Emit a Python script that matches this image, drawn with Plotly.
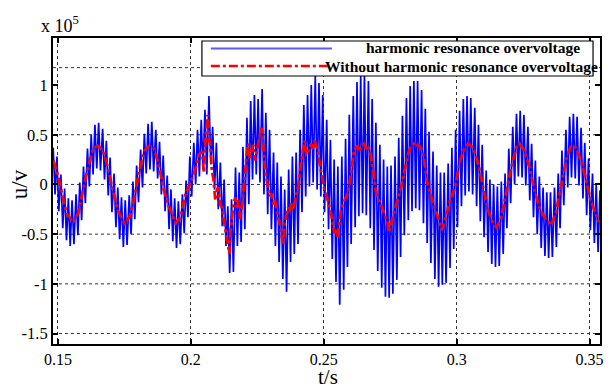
import plotly.graph_objects as go

# ---------------- data (voltage in units of 1e5 V) ----------------
# blue: harmonic resonance overvoltage, one maximum and one minimum per harmonic cycle
blue_t = [0.1482, 0.1496, 0.1511, 0.1525, 0.1539, 0.1553, 0.1568, 0.1582, 0.1596, 0.1611,
          0.1625, 0.1639, 0.1653, 0.1668, 0.1682, 0.1696, 0.1711, 0.1725, 0.1739, 0.1753,
          0.1768, 0.1782, 0.1796, 0.1811, 0.1825, 0.1839, 0.1853, 0.1868, 0.1882, 0.1896,
          0.1911, 0.1925, 0.1939, 0.1953, 0.1968, 0.1982, 0.1996, 0.2011, 0.2025, 0.2039,
          0.2053, 0.2068, 0.2082, 0.2096, 0.2111, 0.2125, 0.2139, 0.2153, 0.2168, 0.2182,
          0.2196, 0.2211, 0.2225, 0.2239, 0.2253, 0.2268, 0.2282, 0.2296, 0.2311, 0.2325,
          0.2339, 0.2353, 0.2368, 0.2382, 0.2396, 0.2411, 0.2425, 0.2439, 0.2453, 0.2468,
          0.2482, 0.2496, 0.2511, 0.2525, 0.2539, 0.2553, 0.2568, 0.2582, 0.2596, 0.2611,
          0.2625, 0.2639, 0.2653, 0.2668, 0.2682, 0.2696, 0.2711, 0.2725, 0.2739, 0.2753,
          0.2768, 0.2782, 0.2796, 0.2811, 0.2825, 0.2839, 0.2853, 0.2868, 0.2882, 0.2896,
          0.2911, 0.2925, 0.2939, 0.2953, 0.2968, 0.2982, 0.2996, 0.3011, 0.3025, 0.3039,
          0.3053, 0.3068, 0.3082, 0.3096, 0.3111, 0.3125, 0.3139, 0.3153, 0.3168, 0.3182,
          0.3196, 0.3211, 0.3225, 0.3239, 0.3253, 0.3268, 0.3282, 0.3296, 0.3311, 0.3325,
          0.3339, 0.3353, 0.3368, 0.3382, 0.3396, 0.3411, 0.3425, 0.3439, 0.3453, 0.3468,
          0.3482, 0.3496, 0.3511, 0.3525, 0.3539]
blue_half = 0.0007  # time from a maximum to the following minimum

blue_hi = [0.37, 0.28, 0.10, -0.04, -0.14, -0.16, -0.10, 0.02, 0.18, 0.36, 0.50, 0.60, 0.62, 0.56,
           0.44, 0.27, 0.11, -0.03, -0.13, -0.16, -0.11, 0.03, 0.19, 0.35, 0.51, 0.61, 0.63, 0.55,
           0.43, 0.29, 0.09, -0.05, -0.14, -0.17, -0.10, 0.04,
           0.28, 0.42, 0.55, 0.65, 0.75, 0.89, 0.58, 0.42, 0.22, 0.05, -0.22, -0.15, 0.17, 0.12,
           0.38, 0.67, 0.84, 0.90, 0.86, 0.96, 0.72, 0.55, 0.32, 0.22, 0.08, -0.05, 0.15, 0.28,
           0.32, 0.55, 0.80, 0.90, 1.00, 1.09, 1.02, 0.90,
           0.65, 0.45, 0.25, 0.18, 0.28, 0.46, 0.70, 0.89, 1.03, 1.10, 1.11, 1.04, 0.86, 0.62,
           0.40, 0.25, 0.18, 0.19, 0.28, 0.47, 0.69, 0.87, 0.99, 1.04, 1.04, 0.95, 0.76, 0.53,
           0.33, 0.19, 0.12, 0.12, 0.21, 0.37,
           0.55, 0.74, 0.86, 0.89, 0.87, 0.77, 0.60, 0.40, 0.14, 0.05, 0.00, -0.02, 0.03, 0.11,
           0.36, 0.58, 0.71, 0.74, 0.70, 0.58, 0.41, 0.24, 0.08, -0.03, -0.08, -0.08, -0.03, 0.11,
           0.34, 0.55, 0.68, 0.71, 0.68, 0.57, 0.42, 0.26, 0.11, 0.00, -0.06]
blue_lo = [-0.10, -0.27, -0.44, -0.56, -0.62, -0.60, -0.51, -0.36, -0.19, -0.02, 0.10, 0.16, 0.14, 0.05,
           -0.11, -0.28, -0.43, -0.55, -0.63, -0.61, -0.50, -0.35, -0.18, -0.03, 0.11, 0.15, 0.13, 0.06,
           -0.10, -0.27, -0.45, -0.57, -0.64, -0.60, -0.49, -0.33,
           -0.12, 0.00, 0.08, 0.15, 0.10, 0.20, -0.05, -0.25, -0.42, -0.62, -0.89, -0.88, -0.62, -0.58,
           -0.45, -0.20, 0.05, 0.10, 0.02, -0.10, -0.30, -0.45, -0.62, -0.78, -0.95, -1.08, -0.78, -0.70,
           -0.60, -0.28, -0.12, -0.02, 0.02, -0.05, -0.12, -0.28,
           -0.45, -0.75, -0.98, -1.21, -1.06, -0.83, -0.60, -0.43, -0.32, -0.29, -0.31, -0.44, -0.66, -0.87,
           -1.04, -1.13, -1.14, -1.10, -0.96, -0.73, -0.51, -0.36, -0.27, -0.24, -0.26, -0.39, -0.59, -0.79,
           -0.95, -1.03, -1.01, -0.99, -0.84, -0.65,
           -0.43, -0.22, -0.11, -0.07, -0.10, -0.22, -0.37, -0.53, -0.68, -0.80, -0.83, -0.82, -0.70, -0.44,
           -0.19, 0.00, 0.08, 0.07, -0.01, -0.16, -0.33, -0.50, -0.64, -0.72, -0.74, -0.73, -0.63, -0.44,
           -0.21, -0.03, 0.07, 0.06, -0.01, -0.14, -0.31, -0.46, -0.59, -0.68, -0.72]

# red: without harmonic resonance overvoltage
red_t = [0.1483, 0.1495, 0.1507, 0.1520, 0.1532, 0.1557, 0.1576, 0.1594, 0.1613, 0.1632,
         0.1650, 0.1669, 0.1688, 0.1706, 0.1725, 0.1750, 0.1769, 0.1787, 0.1806, 0.1825,
         0.1843, 0.1862, 0.1881, 0.1899, 0.1918, 0.1943, 0.1961, 0.1980, 0.1999, 0.2017,
         0.2030, 0.2042, 0.2049, 0.2055, 0.2060, 0.2063, 0.2068, 0.2073, 0.2079, 0.2085,
         0.2092, 0.2098, 0.2104, 0.2110, 0.2116, 0.2123, 0.2130, 0.2136, 0.2142, 0.2145,
         0.2148, 0.2154, 0.2160, 0.2167, 0.2173, 0.2179, 0.2185, 0.2192, 0.2198, 0.2204,
         0.2210, 0.2216, 0.2222, 0.2229, 0.2235, 0.2241, 0.2248, 0.2254, 0.2260, 0.2266,
         0.2272, 0.2279, 0.2285, 0.2291, 0.2297, 0.2303, 0.2310, 0.2316, 0.2322, 0.2328,
         0.2335, 0.2341, 0.2347, 0.2353, 0.2360, 0.2366, 0.2372, 0.2378, 0.2385, 0.2391,
         0.2397, 0.2403, 0.2409, 0.2415, 0.2422, 0.2428, 0.2434, 0.2440, 0.2446, 0.2453,
         0.2459, 0.2465, 0.2471, 0.2478, 0.2484, 0.2490, 0.2497, 0.2503, 0.2509, 0.2515,
         0.2521, 0.2527, 0.2533, 0.2540, 0.2546, 0.2552, 0.2558, 0.2565, 0.2571, 0.2577,
         0.2583, 0.2590, 0.2596, 0.2602, 0.2608, 0.2614, 0.2620, 0.2627, 0.2633, 0.2639,
         0.2645, 0.2652, 0.2658, 0.2664, 0.2670, 0.2676, 0.2683, 0.2689, 0.2695, 0.2701,
         0.2707, 0.2714, 0.2720, 0.2726, 0.2732, 0.2739, 0.2745, 0.2751, 0.2757, 0.2764,
         0.2770, 0.2779, 0.2789, 0.2795, 0.2801, 0.2807, 0.2813, 0.2820, 0.2826, 0.2832,
         0.2838, 0.2845, 0.2851, 0.2857, 0.2863, 0.2870, 0.2876, 0.2882, 0.2888, 0.2894,
         0.2900, 0.2906, 0.2913, 0.2919, 0.2925, 0.2932, 0.2938, 0.2944, 0.2950, 0.2956,
         0.2966, 0.2975, 0.2985, 0.2994, 0.3004, 0.3013, 0.3025, 0.3043, 0.3062, 0.3081,
         0.3100, 0.3118, 0.3137, 0.3150, 0.3168, 0.3187, 0.3205, 0.3224, 0.3236, 0.3255,
         0.3274, 0.3293, 0.3311, 0.3330, 0.3355, 0.3373, 0.3392, 0.3411, 0.3430, 0.3448,
         0.3467, 0.3485, 0.3504, 0.3522, 0.3535]
red_u = [0.24, 0.14, 0.01, -0.16, -0.29, -0.38, -0.29, -0.06, 0.17, 0.36,
         0.39, 0.34, 0.17, -0.06, -0.26, -0.39, -0.33, -0.13, 0.14, 0.34,
         0.39, 0.36, 0.17, -0.06, -0.23, -0.39, -0.33, -0.09, 0.02, 0.15,
         0.30, 0.33, 0.12, 0.45, 0.64, 0.70, 0.45, 0.41, 0.14, 0.05,
         -0.16, -0.05, -0.03, -0.20, -0.23, -0.35, -0.43, -0.55, -0.63, -0.70,
         -0.50, -0.33, -0.20, -0.13, -0.25, -0.16, -0.35, -0.23, -0.05, 0.14,
         0.30, 0.41, 0.25, 0.34, 0.40, 0.24, 0.35, 0.41, 0.50, 0.57,
         0.35, 0.17, 0.05, -0.03, -0.12, -0.09, -0.20, -0.16, -0.25, -0.33,
         -0.40, -0.49, -0.61, -0.39, -0.30, -0.23, -0.28, -0.19, -0.25, -0.16,
         -0.10, -0.03, 0.10, 0.24, 0.35, 0.44, 0.30, 0.31, 0.38, 0.41,
         0.35, 0.44, 0.40, 0.34, 0.22, 0.14, 0.05, -0.06, -0.10, -0.16,
         -0.22, -0.29, -0.38, -0.49, -0.45, -0.53, -0.40, -0.26, -0.20, -0.16,
         -0.12, -0.09, 0.00, 0.11, 0.22, 0.34, 0.37, 0.39, 0.33, 0.36,
         0.40, 0.41, 0.36, 0.39, 0.35, 0.31, 0.18, 0.04, -0.05, -0.13,
         -0.16, -0.19, -0.24, -0.29, -0.33, -0.36, -0.48, -0.42, -0.36, -0.30,
         -0.23, -0.15, -0.06, 0.02, 0.11, 0.19, 0.27, 0.33, 0.37, 0.40,
         0.41, 0.38, 0.39, 0.40, 0.37, 0.34, 0.27, 0.15, 0.04, -0.03,
         -0.09, -0.14, -0.19, -0.24, -0.29, -0.34, -0.39, -0.46, -0.41, -0.36,
         -0.26, -0.16, -0.09, -0.03, 0.12, 0.24, 0.34, 0.41, 0.37, 0.21,
         -0.03, -0.26, -0.39, -0.43, -0.33, -0.09, 0.17, 0.37, 0.41, 0.34,
         0.17, -0.06, -0.23, -0.33, -0.41, -0.29, -0.03, 0.24, 0.39, 0.37,
         0.24, 0.07, -0.16, -0.29, -0.38]

x_ticks = [0.15, 0.2, 0.25, 0.3, 0.35]
x_ticktext = ["0.15", "0.2", "0.25", "0.3", "0.35"]
y_ticks = [-1.5, -1, -0.5, 0, 0.5, 1]
y_ticktext = ["-1.5", "-1", "-0.5", "0", "0.5", "1"]
y_grid = [-1.5, -1, -0.5, 0, 0.5, 1.175]
legend_names = ["harmonic resonance overvoltage", "Without harmonic resonance overvoltage"]

# ---------------- figure ----------------
W, H = 610, 389
L, R, T, B = 53, 6, 38, 45
pw, ph = W - L - R, H - T - B


def px(xp):
    return (xp - L) / pw


def py(yp):
    return (H - B - yp) / ph


bx, by = [], []
for t, hi, lo in zip(blue_t, blue_hi, blue_lo):
    bx += [t, t + blue_half]
    by += [hi, lo]

SERIF = "Liberation Serif, Times New Roman, serif"

fig = go.Figure()
fig.add_trace(go.Scatter(x=bx, y=by, mode="lines", name=legend_names[0],
                         line=dict(color="rgb(0,0,255)", width=1.7), showlegend=False,
                         hoverinfo="skip"))
fig.add_trace(go.Scatter(x=red_t, y=red_u, mode="lines", name=legend_names[1],
                         line=dict(color="rgb(255,0,0)", width=2.8, dash="dashdot"),
                         showlegend=False, hoverinfo="skip"))

shapes = []
for g in y_grid:
    shapes.append(dict(type="line", xref="paper", yref="y", x0=0, x1=1, y0=g, y1=g,
                       line=dict(color="#333", width=1, dash="dot"), layer="below"))
# legend box
shapes.append(dict(type="rect", xref="paper", yref="paper", x0=px(203), x1=px(597),
                   y0=py(76), y1=py(41), line=dict(color="black", width=1.2),
                   fillcolor="white", layer="above"))
shapes.append(dict(type="line", xref="paper", yref="paper", x0=px(212), x1=px(334),
                   y0=py(48.5), y1=py(48.5), line=dict(color="rgb(90,90,255)", width=2),
                   layer="above"))
shapes.append(dict(type="line", xref="paper", yref="paper", x0=px(212), x1=px(330),
                   y0=py(66), y1=py(66), line=dict(color="rgb(255,0,0)", width=2.4,
                                                     dash="dashdot"), layer="above"))

annotations = [
    dict(text="<b>" + legend_names[0] + "</b>", xref="paper", yref="paper",
         x=px(476), y=py(47.5), showarrow=False, xanchor="center", yanchor="middle",
         font=dict(family=SERIF, size=15.5, color="black")),
    dict(text="<b>" + legend_names[1] + "</b>", xref="paper", yref="paper",
         x=px(464), y=py(66), showarrow=False, xanchor="center", yanchor="middle",
         font=dict(family=SERIF, size=15.5, color="black")),
    dict(text="u/v", xref="paper", yref="paper", x=px(19), y=py(184), showarrow=False,
         textangle=-90, xanchor="center", yanchor="middle",
         font=dict(family=SERIF, size=23, color="black")),
    dict(text="t/s", xref="paper", yref="paper", x=px(330), y=py(376.5), showarrow=False,
         xanchor="center", yanchor="middle",
         font=dict(family=SERIF, size=21, color="black")),
    dict(text="x 10<sup>5</sup>", xref="paper", yref="paper", x=px(39), y=py(25),
         showarrow=False, xanchor="left", yanchor="middle",
         font=dict(family=SERIF, size=18, color="black")),
]

fig.update_layout(
    width=W, height=H,
    margin=dict(l=L, r=R, t=T, b=B, pad=0),
    paper_bgcolor="white", plot_bgcolor="white",
    shapes=shapes, annotations=annotations,
    font=dict(family=SERIF, size=16, color="black"),
)
fig.update_xaxes(range=[0.14813, 0.35392], tickvals=x_ticks, ticktext=x_ticktext,
                 showgrid=True, gridcolor="#333", griddash="dot", gridwidth=1,
                 zeroline=False, showline=True, linecolor="black", linewidth=2,
                 mirror="ticks", ticks="inside", ticklen=5, tickwidth=1.5, tickcolor="black",
                 tickfont=dict(family=SERIF, size=16, color="black"))
fig.update_yaxes(range=[-1.605, 1.473], tickvals=y_ticks, ticktext=y_ticktext,
                 showgrid=False, zeroline=False, showline=True, linecolor="black",
                 linewidth=2, mirror="ticks", ticks="inside", ticklen=5, tickwidth=1.5,
                 tickcolor="black", tickfont=dict(family=SERIF, size=16.5, color="black"))

fig.write_html(
    "out.html",
    config={"displayModeBar": False},
    post_script="document.body.style.margin='0';document.body.style.padding='0';"
                "document.documentElement.style.overflow='hidden';",
)
